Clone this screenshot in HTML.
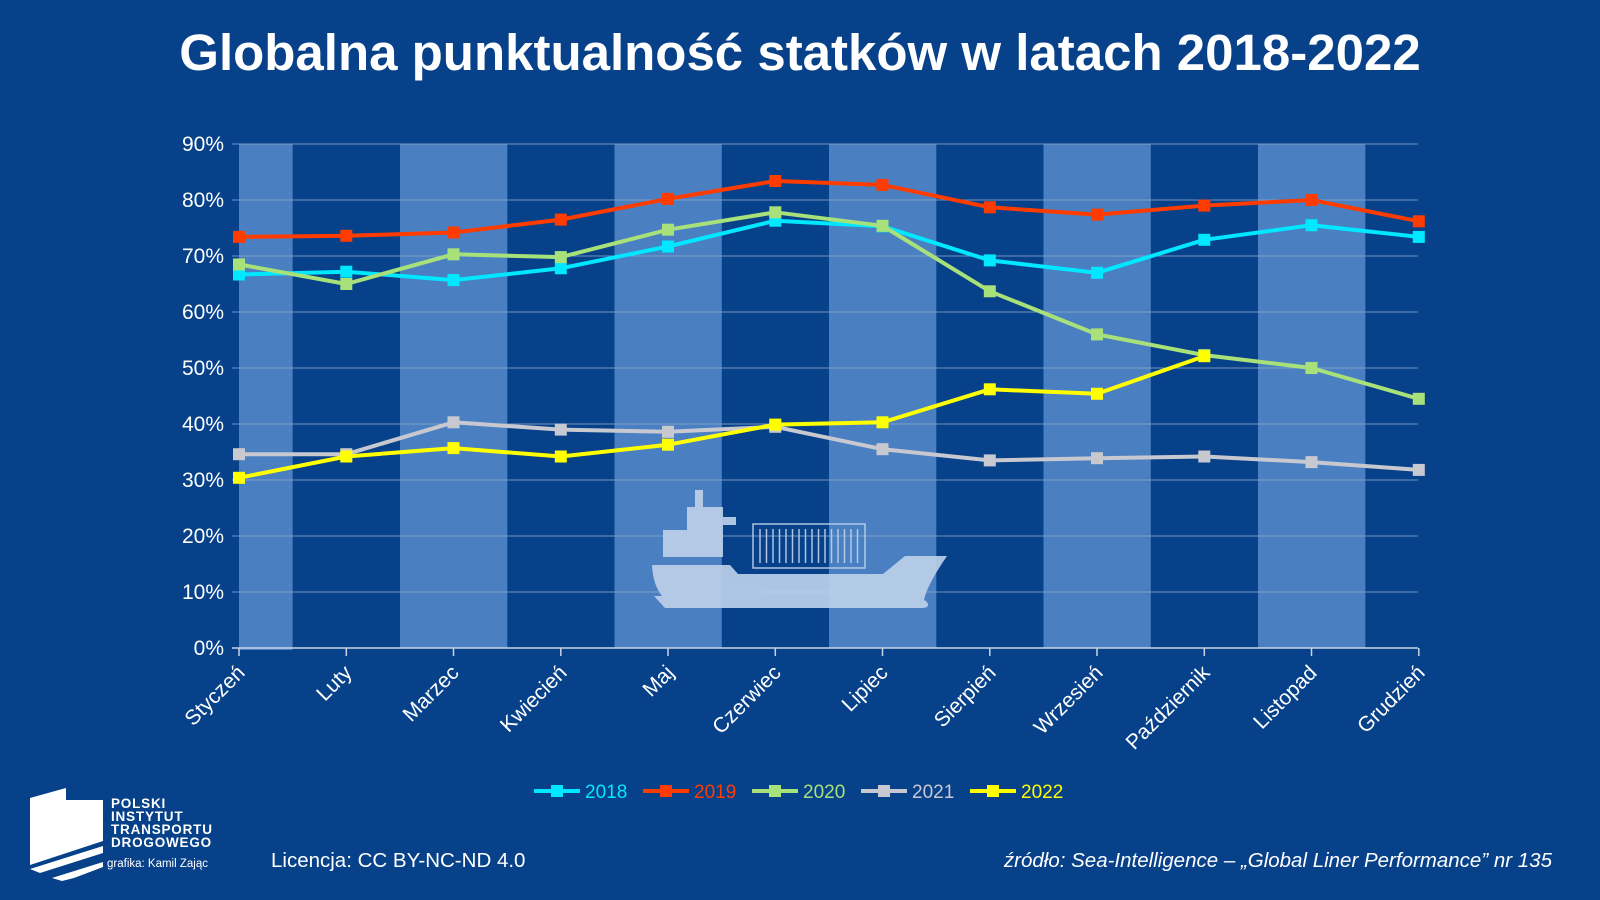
<!DOCTYPE html>
<html><head><meta charset="utf-8"><style>
html,body{margin:0;padding:0;background:#074189;}
svg{display:block;font-family:"Liberation Sans",Arial,sans-serif;}
</style></head><body>
<svg width="1600" height="900" viewBox="0 0 1600 900" xmlns="http://www.w3.org/2000/svg">
<rect width="1600" height="900" fill="#074189"/>
<text x="800" y="70" text-anchor="middle" fill="#fff" font-size="51" font-weight="bold">Globalna punktualność statków w latach 2018-2022</text>
<g fill="#4a80c2">
<rect x="239" y="144" width="53.6" height="506"/>
<rect x="400" y="144" width="107.3" height="504"/>
<rect x="614.5" y="144" width="107.3" height="504"/>
<rect x="829" y="144" width="107.3" height="504"/>
<rect x="1043.5" y="144" width="107.3" height="504"/>
<rect x="1258" y="144" width="107.3" height="504"/>
</g>
<g stroke="#8aa8cf" stroke-width="1" opacity="0.8">
<line x1="232" x2="1418" y1="144" y2="144"/><line x1="232" x2="1418" y1="200" y2="200"/>
<line x1="232" x2="1418" y1="256" y2="256"/><line x1="232" x2="1418" y1="312" y2="312"/>
<line x1="232" x2="1418" y1="368" y2="368"/><line x1="232" x2="1418" y1="424" y2="424"/>
<line x1="232" x2="1418" y1="480" y2="480"/><line x1="232" x2="1418" y1="536" y2="536"/>
<line x1="232" x2="1418" y1="592" y2="592"/>
</g>
<line x1="232" x2="1418" y1="648" y2="648" stroke="#c8d4e6" stroke-width="1.5"/>
<g stroke="#c8d4e6" stroke-width="1.5">
<line x1="239" x2="239" y1="648" y2="656"/><line x1="346.3" x2="346.3" y1="648" y2="656"/><line x1="453.5" x2="453.5" y1="648" y2="656"/><line x1="560.8" x2="560.8" y1="648" y2="656"/><line x1="668" x2="668" y1="648" y2="656"/><line x1="775.3" x2="775.3" y1="648" y2="656"/><line x1="882.5" x2="882.5" y1="648" y2="656"/><line x1="989.8" x2="989.8" y1="648" y2="656"/><line x1="1097" x2="1097" y1="648" y2="656"/><line x1="1204.3" x2="1204.3" y1="648" y2="656"/><line x1="1311.5" x2="1311.5" y1="648" y2="656"/><line x1="1418.8" x2="1418.8" y1="648" y2="656"/>
</g>
<g fill="#fff" font-size="21" text-anchor="end">
<text x="224" y="151">90%</text><text x="224" y="207">80%</text><text x="224" y="263">70%</text><text x="224" y="319">60%</text><text x="224" y="375">50%</text><text x="224" y="431">40%</text><text x="224" y="487">30%</text><text x="224" y="543">20%</text><text x="224" y="599">10%</text><text x="224" y="655">0%</text>
</g>
<g fill="#fff" font-size="21" text-anchor="end">
<text transform="translate(246,674) rotate(-45)">Styczeń</text>
<text transform="translate(353,674) rotate(-45)">Luty</text>
<text transform="translate(460,674) rotate(-45)">Marzec</text>
<text transform="translate(568,674) rotate(-45)">Kwiecień</text>
<text transform="translate(675,674) rotate(-45)">Maj</text>
<text transform="translate(782,674) rotate(-45)">Czerwiec</text>
<text transform="translate(889,674) rotate(-45)">Lipiec</text>
<text transform="translate(997,674) rotate(-45)">Sierpień</text>
<text transform="translate(1104,674) rotate(-45)">Wrzesień</text>
<text transform="translate(1211,674) rotate(-45)">Październik</text>
<text transform="translate(1318,674) rotate(-45)">Listopad</text>
<text transform="translate(1426,674) rotate(-45)">Grudzień</text>
</g>
<g fill="#bcd0ea" opacity="0.92">
<rect x="695" y="490" width="8" height="17"/>
<rect x="687" y="507" width="36" height="24"/>
<rect x="723" y="517" width="13" height="8"/>
<rect x="663" y="530" width="60" height="27"/>
<path d="M652,565 L730,565 L738,574 L883,574 L905,556 L947,556 Q927,585 924,600 Q930,603 927,607 Q925,608 920,608 L665,608 L654,596 L662,596 Q653,585 652,565 Z"/>
</g>
<g stroke="#bcd0ea" fill="none" stroke-width="1.5" opacity="0.92">
<rect x="753" y="524" width="112" height="44"/>
<path d="M760,529v34M766.5,529v34M773,529v34M779.5,529v34M786,529v34M792.5,529v34M799,529v34M805.5,529v34M812,529v34M818.5,529v34M825,529v34M831.5,529v34M838,529v34M844.5,529v34M851,529v34M857.5,529v34"/>
</g>
<g fill="none" stroke-width="4" stroke-linejoin="round">
<polyline stroke="#00e8ff" points="239,274.5 346.3,271.7 453.5,280.1 560.8,268.3 668,246.5 775.3,220.7 882.5,226.3 989.8,260.4 1097,272.8 1204.3,239.8 1311.5,225.2 1418.8,236.9"/>
<polyline stroke="#ff3c00" points="239,236.9 346.3,235.8 453.5,232.5 560.8,219.6 668,198.9 775.3,181 882.5,184.9 989.8,207.3 1097,214.6 1204.3,205.6 1311.5,200 1418.8,221.3"/>
<polyline stroke="#a8e07a" points="239,264.4 346.3,284 453.5,254.3 560.8,257.1 668,229.7 775.3,212.3 882.5,225.8 989.8,291.3 1097,334.4 1204.3,355.1 1311.5,368 1418.8,398.8"/>
<polyline stroke="#c8c8d0" points="239,454.2 346.3,454.2 453.5,422.3 560.8,429.6 668,431.8 775.3,426.8 882.5,449.2 989.8,460.4 1097,458.2 1204.3,456.5 1311.5,462.1 1418.8,469.9"/>
<polyline stroke="#ffff00" points="239,477.8 346.3,456.5 453.5,448.1 560.8,456.5 668,444.7 775.3,424.6 882.5,422.3 989.8,389.3 1097,393.8 1204.3,356.2"/>
</g>
<g>
<g fill="#00e8ff"><rect x="233" y="268.5" width="12" height="12"/><rect x="340.3" y="265.7" width="12" height="12"/><rect x="447.5" y="274.1" width="12" height="12"/><rect x="554.8" y="262.3" width="12" height="12"/><rect x="662" y="240.5" width="12" height="12"/><rect x="769.3" y="214.7" width="12" height="12"/><rect x="876.5" y="220.3" width="12" height="12"/><rect x="983.8" y="254.4" width="12" height="12"/><rect x="1091" y="266.8" width="12" height="12"/><rect x="1198.3" y="233.8" width="12" height="12"/><rect x="1305.5" y="219.2" width="12" height="12"/><rect x="1412.8" y="230.9" width="12" height="12"/></g>
<g fill="#ff3c00"><rect x="233" y="230.9" width="12" height="12"/><rect x="340.3" y="229.8" width="12" height="12"/><rect x="447.5" y="226.5" width="12" height="12"/><rect x="554.8" y="213.6" width="12" height="12"/><rect x="662" y="192.9" width="12" height="12"/><rect x="769.3" y="175" width="12" height="12"/><rect x="876.5" y="178.9" width="12" height="12"/><rect x="983.8" y="201.3" width="12" height="12"/><rect x="1091" y="208.6" width="12" height="12"/><rect x="1198.3" y="199.6" width="12" height="12"/><rect x="1305.5" y="194" width="12" height="12"/><rect x="1412.8" y="215.3" width="12" height="12"/></g>
<g fill="#a8e07a"><rect x="233" y="258.4" width="12" height="12"/><rect x="340.3" y="278" width="12" height="12"/><rect x="447.5" y="248.3" width="12" height="12"/><rect x="554.8" y="251.1" width="12" height="12"/><rect x="662" y="223.7" width="12" height="12"/><rect x="769.3" y="206.3" width="12" height="12"/><rect x="876.5" y="219.8" width="12" height="12"/><rect x="983.8" y="285.3" width="12" height="12"/><rect x="1091" y="328.4" width="12" height="12"/><rect x="1198.3" y="349.1" width="12" height="12"/><rect x="1305.5" y="362" width="12" height="12"/><rect x="1412.8" y="392.8" width="12" height="12"/></g>
<g fill="#c8c8d0"><rect x="233" y="448.2" width="12" height="12"/><rect x="340.3" y="448.2" width="12" height="12"/><rect x="447.5" y="416.3" width="12" height="12"/><rect x="554.8" y="423.6" width="12" height="12"/><rect x="662" y="425.8" width="12" height="12"/><rect x="769.3" y="420.8" width="12" height="12"/><rect x="876.5" y="443.2" width="12" height="12"/><rect x="983.8" y="454.4" width="12" height="12"/><rect x="1091" y="452.2" width="12" height="12"/><rect x="1198.3" y="450.5" width="12" height="12"/><rect x="1305.5" y="456.1" width="12" height="12"/><rect x="1412.8" y="463.9" width="12" height="12"/></g>
<g fill="#ffff00"><rect x="233" y="471.8" width="12" height="12"/><rect x="340.3" y="450.5" width="12" height="12"/><rect x="447.5" y="442.1" width="12" height="12"/><rect x="554.8" y="450.5" width="12" height="12"/><rect x="662" y="438.7" width="12" height="12"/><rect x="769.3" y="418.6" width="12" height="12"/><rect x="876.5" y="416.3" width="12" height="12"/><rect x="983.8" y="383.3" width="12" height="12"/><rect x="1091" y="387.8" width="12" height="12"/><rect x="1198.3" y="350.2" width="12" height="12"/></g>
</g>
<g font-size="19">
<line x1="534" x2="580" y1="791" y2="791" stroke="#00e8ff" stroke-width="4"/><rect x="551" y="785" width="12" height="12" fill="#00e8ff"/><text x="585" y="798" fill="#00e8ff">2018</text>
<line x1="643" x2="689" y1="791" y2="791" stroke="#ff3c00" stroke-width="4"/><rect x="660" y="785" width="12" height="12" fill="#ff3c00"/><text x="694" y="798" fill="#ff3c00">2019</text>
<line x1="752" x2="798" y1="791" y2="791" stroke="#a8e07a" stroke-width="4"/><rect x="769" y="785" width="12" height="12" fill="#a8e07a"/><text x="803" y="798" fill="#a8e07a">2020</text>
<line x1="861" x2="907" y1="791" y2="791" stroke="#c8c8d0" stroke-width="4"/><rect x="878" y="785" width="12" height="12" fill="#c8c8d0"/><text x="912" y="798" fill="#c8c8d0">2021</text>
<line x1="970" x2="1016" y1="791" y2="791" stroke="#ffff00" stroke-width="4"/><rect x="987" y="785" width="12" height="12" fill="#ffff00"/><text x="1021" y="798" fill="#ffff00">2022</text>
</g>
<g fill="#fff">
<path d="M30,798 L66,788 L66,800 L103,800 L103,841 L30,865 Z"/>
<path d="M30,869 L103,846 L103,853 L40,873 Z"/>
<path d="M52,878 L103,862 L103,867 L74,878 L62,881 Z"/>
</g>
<g fill="#fff" font-size="13.5" font-weight="bold" letter-spacing="0.8">
<text x="111" y="808">POLSKI</text><text x="111" y="821">INSTYTUT</text><text x="111" y="834">TRANSPORTU</text><text x="111" y="847">DROGOWEGO</text>
</g>
<text x="107" y="867" fill="#fff" font-size="11.5">grafika: Kamil Zając</text>
<text x="271" y="867" fill="#fff" font-size="20.5">Licencja: CC BY-NC-ND 4.0</text>
<text x="1552" y="867" fill="#fff" font-size="20.5" font-style="italic" text-anchor="end">źródło: Sea-Intelligence – „Global Liner Performance” nr 135</text>
</svg>
</body></html>
